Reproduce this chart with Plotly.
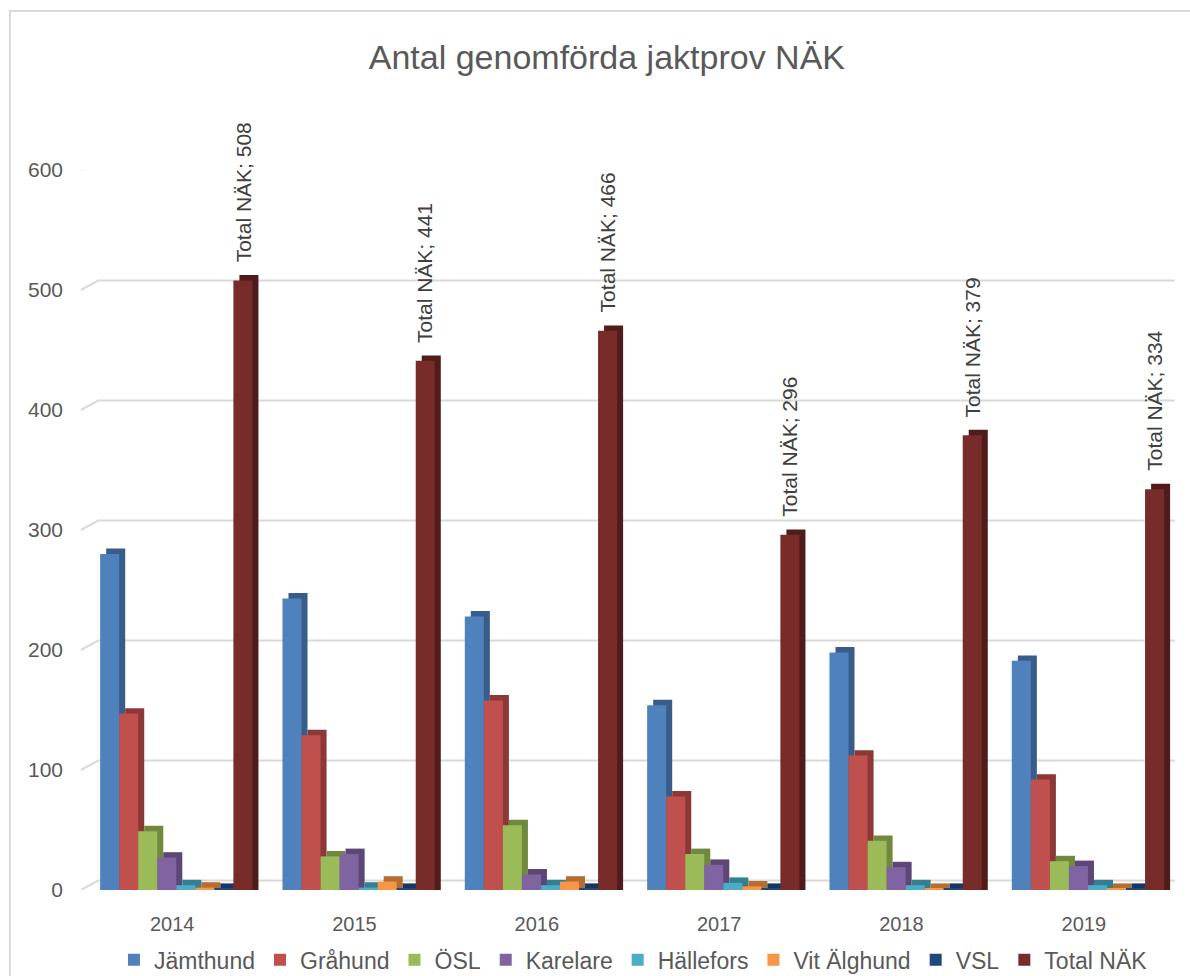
import plotly.graph_objects as go

years = ["2014", "2015", "2016", "2017", "2018", "2019"]
series_names = ["Jämthund", "Gråhund", "ÖSL", "Karelare", "Hällefors", "Vit Älghund", "VSL", "Total NÄK"]
jamthund = [280, 243, 228, 154, 198, 191]
grahund = [147, 129, 158, 78, 112, 92]
osl = [49, 28, 54, 30, 41, 24]
karelare = [27, 30, 13, 21, 19, 20]
hallefors = [4, 2, 4, 6, 4, 4]
vit_alghund = [2, 7, 7, 3, 1, 1]
vsl = [1, 1, 1, 1, 1, 1]
total_nak = [508, 441, 466, 296, 379, 334]
y_ticks = [0, 100, 200, 300, 400, 500, 600]

values = [jamthund, grahund, osl, karelare, hallefors, vit_alghund, vsl, total_nak]
colors = ["#4f81bd", "#c0504d", "#9bbb59", "#8064a2", "#4bacc6", "#f79646", "#1f497d", "#772c2a"]
side_colors = ["#385d8a", "#8c3836", "#71893f", "#5c4776", "#357d91", "#b66d31", "#17375e", "#4f1c1b"]

FONT = "Liberation Sans"
SLOT = 0.1044        # width of each bar slot (category units)
DX = 0.033           # 3D depth, horizontal
DY = 4.5             # 3D depth, vertical (data units)
GRID_DY = 8.0        # back-wall offset of gridlines (data units)
GRID_DX = 0.016      # back-wall offset of gridlines (paper units)
n = len(series_names)
start = -0.395

fig = go.Figure()
for i, (name, vals, col, scol) in enumerate(zip(series_names, values, colors, side_colors)):
    off = start + i * SLOT
    # depth face (drawn behind the front face)
    fig.add_trace(go.Bar(x=years, y=[v + DY for v in vals], offset=off + DX, width=SLOT,
                         marker=dict(color=scol, line=dict(width=0)), showlegend=False,
                         hoverinfo="skip", legendgroup=name))
    # front face
    fig.add_trace(go.Bar(x=years, y=vals, offset=off, width=SLOT, name=name, legendgroup=name,
                         marker=dict(color=col, line=dict(width=0))))

total_center = start + (n - 1) * SLOT + SLOT / 2
annotations = []
for j, v in enumerate(total_nak):
    annotations.append(dict(x=j + total_center, y=v, xref="x", yref="y", text=f"Total NÄK; {v}",
                            textangle=-90, showarrow=False, xanchor="center", yanchor="bottom",
                            yshift=16, font=dict(family=FONT, size=21, color="#404040")))

shapes = []
for t in y_ticks:
    shapes.append(dict(type="line", xref="paper", yref="y", x0=0, x1=GRID_DX, y0=t, y1=t + GRID_DY,
                       line=dict(color="#d9d9d9", width=2), layer="below"))
    shapes.append(dict(type="line", xref="paper", yref="y", x0=GRID_DX, x1=1, y0=t + GRID_DY, y1=t + GRID_DY,
                       line=dict(color="#d9d9d9", width=2), layer="below"))
shapes.append(dict(type="rect", xref="paper", yref="paper", x0=-0.065, x1=1.05, y0=-0.2, y1=1.221,
                   line=dict(color="#d9d9d9", width=2), fillcolor="rgba(0,0,0,0)", layer="below"))

fig.update_layout(
    width=1190, height=976,
    paper_bgcolor="white", plot_bgcolor="white",
    barmode="overlay",
    title=dict(text="Antal genomförda jaktprov NÄK", x=0.51, xanchor="center", y=0.942, yanchor="middle",
               font=dict(family=FONT, size=34, color="#595959")),
    margin=dict(l=81, r=15, t=170, b=86, autoexpand=False),
    font=dict(family=FONT, size=18, color="#595959"),
    legend=dict(orientation="h", x=0.505, xanchor="center", y=-0.097, yanchor="middle",
                bgcolor="rgba(0,0,0,0)",
                font=dict(family=FONT, size=23, color="#595959"), itemwidth=30, traceorder="normal"),
    xaxis=dict(range=[-0.5, 5.5], showgrid=False, showline=False, ticks="", ticklabelstandoff=20,
               tickfont=dict(size=20, color="#595959")),
    yaxis=dict(range=[0, 600], tickvals=y_ticks, showgrid=False, zeroline=False, showline=False,
               ticklabelstandoff=17, tickfont=dict(size=21, color="#595959")),
    annotations=annotations,
    shapes=shapes,
)

fig.write_html("out.html", config={"displayModeBar": False},
               post_script="document.body.style.margin='0';")
